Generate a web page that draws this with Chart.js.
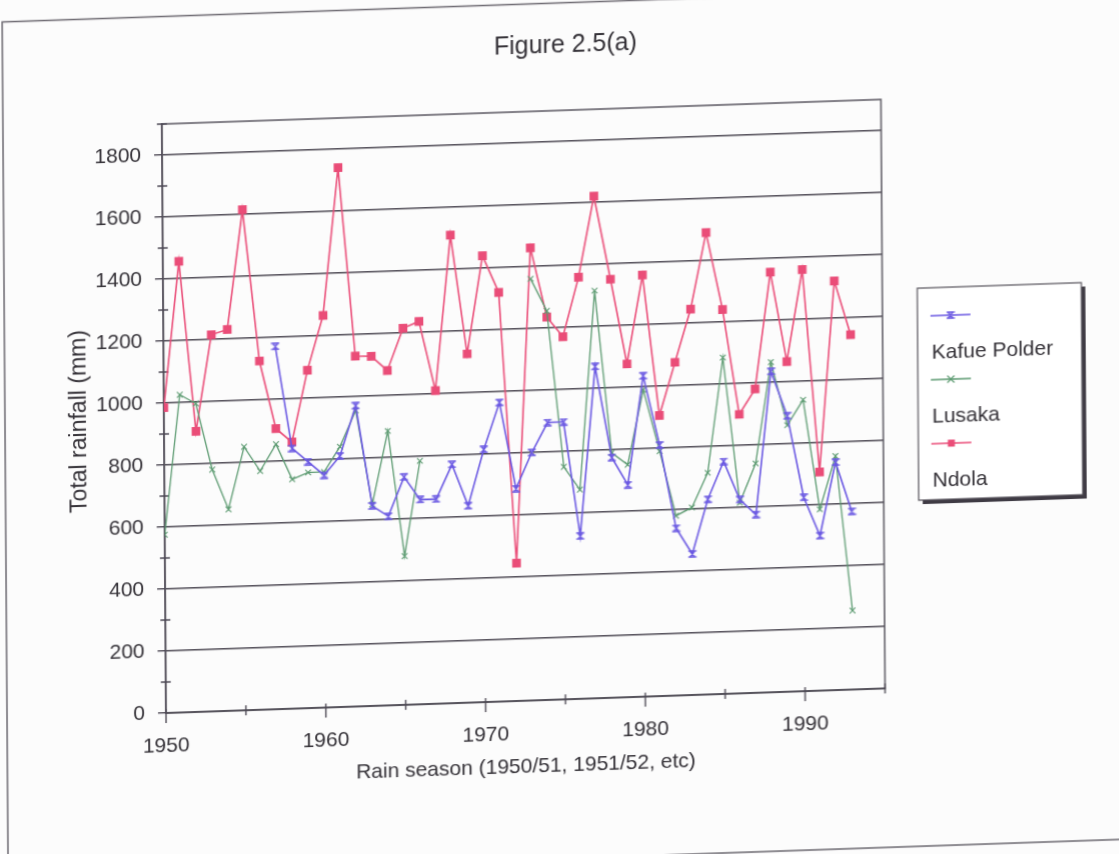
<!DOCTYPE html>
<html>
<head>
<meta charset="utf-8">
<title>Figure 2.5(a)</title>
<script src="https://cdn.jsdelivr.net/npm/chart.js@4.4.1/dist/chart.umd.min.js"></script>
<style>
  html, body { margin: 0; padding: 0; background: #fcfcfc; overflow: hidden; width: 1119px; height: 854px; }
  /* the scanned page is skewed a little, so the sheet is skewed the same way */
  #sheet { position: absolute; left: 0; top: 0; width: 1130px; height: 900px;
           transform-origin: 166px 713px; transform: matrix(1, -0.0342, 0.007, 1, 0, 0); }
</style>
</head>
<body>
<div id="sheet"><canvas id="rainChart" width="1130" height="900"></canvas></div>
<script>
// Rain seasons (1950 = 1950/51 season)
const seasons = [1950, 1951, 1952, 1953, 1954, 1955, 1956, 1957, 1958, 1959,
                 1960, 1961, 1962, 1963, 1964, 1965, 1966, 1967, 1968, 1969,
                 1970, 1971, 1972, 1973, 1974, 1975, 1976, 1977, 1978, 1979,
                 1980, 1981, 1982, 1983, 1984, 1985, 1986, 1987, 1988, 1989,
                 1990, 1991, 1992, 1993];

// Total rainfall (mm) per station
const kafuePolder = [null, null, null, null, null, null, null, 1170, 840, 795,
                     750, 810, 970, 645, 610, 735, 660, 660, 770, 635,
                     815, 965, 685, 800, 895, 895, 525, 1070, 775, 685,
                     1035, 810, 540, 455, 630, 750, 625, 575, 1035, 890,
                     625, 500, 735, 575];
const lusaka = [575, 1025, 995, 780, 650, 850, 770, 855, 740, 760,
                760, 840, 955, 650, 885, 480, 785, null, null, null,
                null, null, null, 1360, 1255, 750, 675, 1315, 790, 750,
                990, 790, 580, 605, 715, 1085, 615, 740, 1065, 860,
                940, 585, 755, 255];
const ndola = [985, 1455, 905, 1215, 1230, 1615, 1125, 905, 860, 1090,
               1265, 1740, 1130, 1128, 1080, 1215, 1235, 1010, 1510, 1125,
               1440, 1320, 445, 1460, 1235, 1170, 1360, 1620, 1350, 1075,
               1360, 905, 1075, 1245, 1490, 1240, 900, 980, 1355, 1065,
               1360, 705, 1320, 1145];

const seriesNames = ['Kafue Polder', 'Lusaka', 'Ndola'];
const chartTitle = 'Figure 2.5(a)';
const xTitle = 'Rain season (1950/51, 1951/52, etc)';
const yTitle = 'Total rainfall (mm)';

const fontFamily = '"Liberation Sans", Arial, sans-serif';
const textColor = '#353238';
const lineColor = '#4e4a55';
const kafueColor = '#6a58e2';
const lusakaColor = '#5b9a70';
const ndolaColor = '#ea4d78';

// Kafue Polder marker: bars top and bottom with a cross between
function hourglassMarker(color) {
    const c = document.createElement('canvas');
    c.width = 9;
    c.height = 8;
    const g = c.getContext('2d');
    g.strokeStyle = color;
    g.lineWidth = 1.4;
    g.beginPath();
    g.moveTo(0.5, 1); g.lineTo(8.5, 1);
    g.moveTo(0.5, 7); g.lineTo(8.5, 7);
    g.moveTo(2, 1); g.lineTo(7, 7);
    g.moveTo(7, 1); g.lineTo(2, 7);
    g.stroke();
    return c;
}

function toPoints(values) {
    return seasons.map((yr, i) => ({ x: yr, y: values[i] }));
}

// Draw a legend symbol the same way as the plotted marker
function drawLegendMarker(ctx, ds, x, y) {
    const style = ds.pointStyle;
    ctx.save();
    ctx.strokeStyle = ds.borderColor;
    ctx.fillStyle = ds.backgroundColor;
    ctx.lineWidth = 1.2;
    if (style instanceof HTMLCanvasElement) {
        ctx.drawImage(style, x - style.width / 2, y - style.height / 2);
    } else if (style === 'rect') {
        ctx.fillRect(x - 3.5, y - 3.5, 7, 7);
    } else if (style === 'crossRot') {
        ctx.beginPath();
        ctx.moveTo(x - 3.5, y - 3.5); ctx.lineTo(x + 3.5, y + 3.5);
        ctx.moveTo(x + 3.5, y - 3.5); ctx.lineTo(x - 3.5, y + 3.5);
        ctx.stroke();
    }
    ctx.restore();
}

const sheetDecor = {
    id: 'sheetDecor',
    beforeDraw(chart) {
        const ctx = chart.ctx;
        // outer border of the chart sheet
        ctx.save();
        ctx.strokeStyle = '#6b6870';
        ctx.lineWidth = 1.5;
        ctx.beginPath();
        ctx.moveTo(1200, 16.5);
        ctx.lineTo(7, 16.5);
        ctx.lineTo(7, 872);
        ctx.lineTo(1200, 872);
        ctx.stroke();
        ctx.restore();
    },
    beforeDatasetsDraw(chart) {
        const ctx = chart.ctx;
        const area = chart.chartArea;
        const xs = chart.scales.x;
        const ys = chart.scales.y;
        ctx.save();
        ctx.strokeStyle = lineColor;
        ctx.lineWidth = 1.4;
        // plot frame
        ctx.strokeRect(area.left, area.top, area.right - area.left, area.bottom - area.top);
        // x tick marks crossing the axis
        ctx.beginPath();
        xs.ticks.forEach(t => {
            const px = xs.getPixelForValue(t.value);
            const major = t.value % 10 === 0;
            ctx.moveTo(px, area.bottom - (major ? 4 : 5));
            ctx.lineTo(px, area.bottom + (major ? 10 : 5));
        });
        // minor y tick marks crossing the axis
        ys.ticks.forEach(t => {
            if (t.value % 200 !== 0) {
                const py = ys.getPixelForValue(t.value);
                ctx.moveTo(area.left - 5, py);
                ctx.lineTo(area.left + 5, py);
            }
        });
        ctx.stroke();
        ctx.restore();
    },
    afterDraw(chart) {
        const ctx = chart.ctx;
        ctx.save();
        // title
        ctx.fillStyle = textColor;
        ctx.font = '25px ' + fontFamily;
        ctx.textAlign = 'center';
        ctx.textBaseline = 'middle';
        ctx.fillText(chartTitle, 570, 59);

        // legend box with shadow
        const bx = 920, by = 314, bw = 164, bh = 212;
        ctx.fillStyle = '#3f3b44';
        ctx.fillRect(bx + 4, by + 4, bw, bh);
        ctx.fillStyle = '#ffffff';
        ctx.fillRect(bx, by, bw, bh);
        ctx.strokeStyle = '#55525a';
        ctx.lineWidth = 1.2;
        ctx.strokeRect(bx, by, bw, bh);

        ctx.font = '21px ' + fontFamily;
        ctx.textAlign = 'left';
        chart.data.datasets.forEach((ds, i) => {
            const sy = 342 + 64 * i;
            ctx.strokeStyle = ds.borderColor;
            ctx.lineWidth = 1.4;
            ctx.beginPath();
            ctx.moveTo(933, sy);
            ctx.lineTo(973, sy);
            ctx.stroke();
            drawLegendMarker(ctx, ds, 953, sy);
            ctx.fillStyle = textColor;
            ctx.fillText(ds.label, 934, sy + 37);
        });
        ctx.restore();
    }
};

const ctx = document.getElementById('rainChart').getContext('2d');
new Chart(ctx, {
    type: 'line',
    data: {
        datasets: [{
            label: seriesNames[0],
            data: toPoints(kafuePolder),
            borderColor: kafueColor,
            backgroundColor: kafueColor,
            borderWidth: 1.6,
            pointStyle: hourglassMarker(kafueColor),
            pointRadius: 4,
            spanGaps: false
        }, {
            label: seriesNames[1],
            data: toPoints(lusaka),
            borderColor: lusakaColor,
            backgroundColor: lusakaColor,
            borderWidth: 1.3,
            pointStyle: 'crossRot',
            pointRadius: 4,
            pointBorderWidth: 1.1,
            spanGaps: false
        }, {
            label: seriesNames[2],
            data: toPoints(ndola),
            borderColor: ndolaColor,
            backgroundColor: ndolaColor,
            borderWidth: 1.6,
            pointStyle: 'rect',
            pointRadius: 5,
            spanGaps: false
        }]
    },
    options: {
        responsive: false,
        animation: false,
        events: [],
        layout: { padding: { left: 0, right: 245, top: 124, bottom: 0 } },
        plugins: {
            legend: { display: false },
            title: { display: false },
            tooltip: { enabled: false }
        },
        scales: {
            x: {
                type: 'linear',
                min: 1950,
                max: 1995,
                afterFit: s => { s.height = 187; },
                ticks: {
                    stepSize: 5,
                    autoSkip: false,
                    maxRotation: 0,
                    padding: 21,
                    color: textColor,
                    font: { family: fontFamily, size: 21 },
                    callback: v => (v % 10 === 0 ? String(v) : '')
                },
                grid: { drawOnChartArea: false, drawTicks: false },
                border: { color: lineColor, width: 1.5 },
                title: {
                    display: true,
                    text: xTitle,
                    color: textColor,
                    font: { family: fontFamily, size: 21 },
                    padding: { top: 108, bottom: 108 }
                }
            },
            y: {
                min: 0,
                max: 1900,
                afterFit: s => { s.width = 166; },
                ticks: {
                    stepSize: 100,
                    autoSkip: false,
                    padding: 13,
                    color: textColor,
                    font: { family: fontFamily, size: 21 },
                    callback: v => (v % 200 === 0 ? String(v) : '')
                },
                grid: {
                    color: c => (c.tick && c.tick.value % 200 === 0 ? lineColor : 'rgba(0,0,0,0)'),
                    tickColor: c => (c.tick && c.tick.value % 200 === 0 ? lineColor : 'rgba(0,0,0,0)'),
                    lineWidth: 1.4,
                    tickLength: 8
                },
                border: { color: lineColor, width: 1.5 },
                title: {
                    display: true,
                    text: yTitle,
                    color: textColor,
                    font: { family: fontFamily, size: 23 },
                    padding: { top: 68, bottom: 68 }
                }
            }
        }
    },
    plugins: [sheetDecor]
});
</script>
</body>
</html>
